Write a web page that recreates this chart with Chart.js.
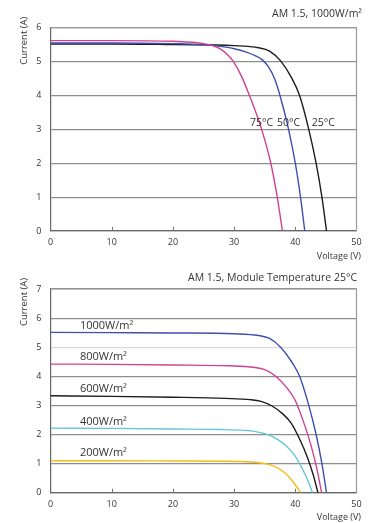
<!DOCTYPE html>
<html><head><meta charset="utf-8">
<script src="https://cdn.jsdelivr.net/npm/chart.js@4.4.1/dist/chart.umd.min.js"></script>
<style>
html,body{margin:0;padding:0;background:#fff;width:369px;height:523px;overflow:hidden}
canvas{position:absolute;left:0}
#c1{top:0}#c2{top:262px}
</style></head><body>
<canvas id="c1" width="369" height="262"></canvas>
<canvas id="c2" width="369" height="261"></canvas>
<script>
// ---------- data ----------
const xTickValues = [0, 10, 20, 30, 40, 50];
const yMaxTop = 6;
const yMaxBottom = 7;

// Top chart: temperature dependence (AM 1.5, 1000 W/m2)
const t75V = [0, 10, 20, 23, 25, 26.5, 27.8, 28.9, 29.9, 31.2, 32.5, 34.5, 36.0, 37.05, 37.9];
const t75I = [5.62, 5.62, 5.6, 5.57, 5.53, 5.47, 5.37, 5.21, 5.0, 4.57, 4.0, 3.0, 2.0, 1.0, 0];
const t50V = [0, 10, 20, 25, 28, 30, 32, 33.5, 34.6, 35.6, 36.6, 37.5, 38.9, 40.0, 40.85, 41.55];
const t50I = [5.55, 5.55, 5.53, 5.5, 5.44, 5.38, 5.28, 5.17, 5.05, 4.85, 4.5, 4.0, 3.0, 2.0, 1.0, 0];
const t25V = [0, 10, 20, 30, 34, 35.8, 37.6, 39.4, 40.7, 42.2, 43.4, 44.35, 45.1];
const t25I = [5.52, 5.52, 5.5, 5.47, 5.41, 5.31, 5.02, 4.52, 4.0, 3.0, 2.0, 1.0, 0];
const tempLabels = ["75°C", "50°C", "25°C"];

// Bottom chart: irradiance dependence (module temperature 25 C)
const g1000V = [0, 10, 20, 30, 34, 35.8, 37.6, 39.4, 40.7, 42.2, 43.4, 44.35, 45.1];
const g1000I = [5.51, 5.5, 5.49, 5.46, 5.4, 5.3, 5.0, 4.5, 4.0, 3.0, 2.0, 1.0, 0];
const g800V = [0, 10, 20, 29.2, 33.2, 35.0, 36.8, 38.6, 39.9, 41.4, 42.6, 43.55, 44.3];
const g800I = [4.42, 4.41, 4.39, 4.36, 4.31, 4.23, 4.0, 3.61, 3.21, 2.4, 1.6, 0.8, 0];
const g600V = [0, 10, 20, 28.6, 32.6, 34.4, 36.2, 38.0, 39.3, 40.8, 42.0, 42.95, 43.7];
const g600I = [3.33, 3.31, 3.28, 3.24, 3.2, 3.14, 2.98, 2.7, 2.4, 1.8, 1.2, 0.6, 0];
const g400V = [0, 10, 20, 27.7, 31.7, 33.5, 35.3, 37.1, 38.4, 39.9, 41.1, 42.05, 42.8];
const g400I = [2.22, 2.21, 2.19, 2.17, 2.14, 2.1, 2.01, 1.83, 1.63, 1.28, 0.84, 0.42, 0];
const g200V = [0, 10, 20, 28, 31, 34, 35.5, 36.5, 37.6, 38.5, 39.3, 40.1, 40.9];
const g200I = [1.1, 1.1, 1.09, 1.08, 1.07, 1.03, 0.98, 0.91, 0.79, 0.64, 0.46, 0.24, 0];
const irrLabels = ["1000W/m²", "800W/m²", "600W/m²", "400W/m²", "200W/m²"];

const titleTop = "AM 1.5, 1000W/m²";
const titleBottom = "AM 1.5, Module Temperature 25°C";
const yTitle = "Current (A)";
const xTitle = "Voltage (V)";

// ---------- helpers ----------
const FONT = "'Open Sans', 'DejaVu Sans', sans-serif";
const pts = (vs, is) => vs.map((v, k) => ({x: v, y: is[k]}));
const line = (vs, is, color) => ({
  data: pts(vs, is), borderColor: color, borderWidth: 1.4,
  pointRadius: 0, showLine: true, fill: false,
  cubicInterpolationMode: 'monotone'
});

const overlay = {
  id: 'overlay',
  beforeDatasetsDraw(chart, args, o) {
    const {ctx, chartArea: a} = chart;
    const xs = chart.scales.x;
    ctx.save();
    ctx.strokeStyle = '#9a9a9a';
    ctx.lineWidth = 1.2;
    ctx.beginPath();
    ctx.moveTo(a.left, a.top); ctx.lineTo(a.right, a.top); ctx.lineTo(a.right, a.bottom);
    ctx.stroke();
    // inner tick marks on the x axis
    ctx.strokeStyle = '#777';
    ctx.lineWidth = 1;
    xTickValues.slice(1, -1).forEach(v => {
      const px = Math.round(xs.getPixelForValue(v)) + 0.5;
      ctx.beginPath(); ctx.moveTo(px, a.bottom); ctx.lineTo(px, a.bottom - 4); ctx.stroke();
    });
    ctx.restore();
  },
  afterDraw(chart, args, o) {
    const {ctx, chartArea: a} = chart;
    const xs = chart.scales.x, ys = chart.scales.y;
    ctx.save();
    ctx.fillStyle = '#333';
    ctx.textBaseline = 'middle';
    // title
    ctx.font = '10.5px ' + FONT;
    ctx.textAlign = 'right';
    ctx.fillText(o.title, o.titleX, o.titleY);
    // x title
    ctx.font = '9px ' + FONT;
    ctx.fillText(xTitle, 361, a.bottom + 25);
    // y title
    ctx.save();
    ctx.translate(24, a.top + 13);
    ctx.rotate(-Math.PI / 2);
    ctx.textAlign = 'center';
    ctx.font = '9.5px ' + FONT;
    ctx.fillText(yTitle, 0, 0);
    ctx.restore();
    // curve labels
    ctx.textAlign = 'left';
    ctx.font = o.labelFont + 'px ' + FONT;
    o.labels.forEach(l => {
      ctx.fillText(l.t, xs.getPixelForValue(l.v), ys.getPixelForValue(l.i));
    });
    ctx.restore();
  }
};

function makeChart(id, datasets, yMax, gridColorFn, ov, padTop, padBottom) {
  return new Chart(document.getElementById(id), {
    type: 'scatter',
    data: {datasets},
    plugins: [overlay],
    options: {
      responsive: false, animation: false, devicePixelRatio: 1,
      layout: {padding: {left: 0, right: 12.5, top: padTop, bottom: padBottom}},
      plugins: {legend: {display: false}, tooltip: {enabled: false}, overlay: ov},
      scales: {
        x: {
          type: 'linear', min: 0, max: 50,
          afterBuildTicks: s => { s.ticks = xTickValues.map(v => ({value: v})); },
          afterFit: s => { s.height = 20; },
          grid: {display: false, drawTicks: false},
          border: {display: true, color: '#666', width: 1.2},
          ticks: {padding: 6, color: '#333', font: {size: 9, family: FONT}, maxRotation: 0}
        },
        y: {
          type: 'linear', min: 0, max: yMax,
          ticks: {stepSize: 1, padding: 9, color: '#333', font: {size: 9, family: FONT}},
          afterFit: s => { s.width = 50.5; },
          grid: {drawTicks: false, color: gridColorFn, lineWidth: 1.2},
          border: {display: true, color: '#666', width: 1.2}
        }
      }
    }
  });
}

makeChart('c1', [
  line(t75V, t75I, '#d0428f'),
  line(t50V, t50I, '#3f4fb0'),
  line(t25V, t25I, '#1c1c1c')
], yMaxTop, () => '#8e8e8e', {
  title: titleTop, titleX: 362, titleY: 14, labelFont: 10.5,
  labels: [
    {t: tempLabels[0], v: 32.6, i: 3.19},
    {t: tempLabels[1], v: 37.0, i: 3.19},
    {t: tempLabels[2], v: 42.7, i: 3.19}
  ]
}, 27.7, 11);

makeChart('c2', [
  line(g1000V, g1000I, '#3f4fb0'),
  line(g800V, g800I, '#d0428f'),
  line(g600V, g600I, '#1c1c1c'),
  line(g400V, g400I, '#62c8d6'),
  line(g200V, g200I, '#f3bd16')
], yMaxBottom, c => (c.tick && c.tick.value === 5) ? '#dadada' : '#8e8e8e', {
  title: titleBottom, titleX: 357, titleY: 16, labelFont: 11,
  labels: [
    {t: irrLabels[0], v: 4.8, i: 5.73},
    {t: irrLabels[1], v: 4.8, i: 4.66},
    {t: irrLabels[2], v: 4.8, i: 3.56},
    {t: irrLabels[3], v: 4.8, i: 2.45},
    {t: irrLabels[4], v: 4.8, i: 1.36}
  ]
}, 27, 10.3);
</script>
</body></html>
